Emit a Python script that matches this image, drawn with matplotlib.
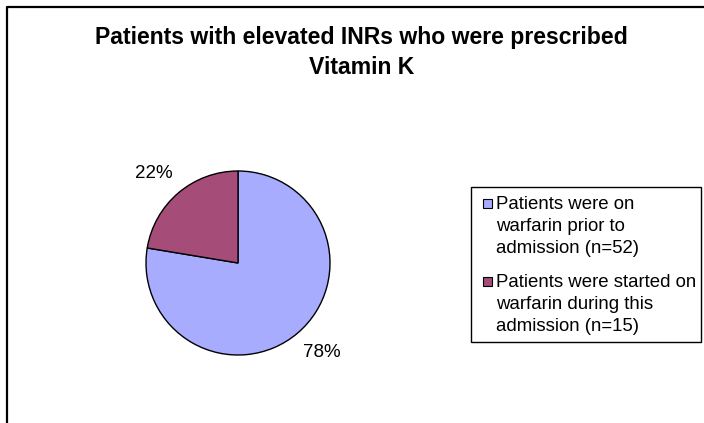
import matplotlib
matplotlib.use("Agg")
import math
import matplotlib.pyplot as plt
from matplotlib.patches import Rectangle
from matplotlib.lines import Line2D

title = "Patients with elevated INRs who were prescribed\nVitamin K"
labels = ["Patients were on\nwarfarin prior to\nadmission (n=52)",
          "Patients were started on\nwarfarin during this\nadmission (n=15)"]
counts = [52, 15]
colors = ["#A8ACFF", "#A64C78"]

plt.rcParams['font.family'] = ['Liberation Sans', 'DejaVu Sans']

W, H = 704, 423
fig = plt.figure(figsize=(W/100, H/100), dpi=100)

def fx(x): return x / W
def fy(y): return 1 - y / H

# outer frame (clipped at right and bottom)
fig.add_artist(Line2D([fx(7.5), fx(7.5), fx(704)], [fy(423), fy(7.5), fy(7.5)],
                      color="black", lw=1.6, transform=fig.transFigure))

fig.text(fx(361.5), fy(52.5), title, ha="center", va="center", fontsize=16.6,
         fontweight="bold", linespacing=1.4)

cx, cy, r = 238, 263, 92
ax = fig.add_axes([fx(cx - r), fy(cy + r), 2*r/W, 2*r/H])
wedges, texts, autotexts = ax.pie(counts, colors=colors, startangle=90, counterclock=False,
       autopct="%.0f%%", pctdistance=1.33,
       wedgeprops=dict(edgecolor="black", linewidth=1.0),
       textprops=dict(fontsize=13.5, color="black"))
# nudge percentage labels slightly counter-clockwise like the original
for t in autotexts:
    x, y = t.get_position()
    a = math.atan2(y, x) + math.radians(3)
    d = math.hypot(x, y)
    t.set_position((d * math.cos(a), d * math.sin(a)))
ax.set_xlim(-1, 1)
ax.set_ylim(-1, 1)
ax.set_aspect("equal")
ax.axis("off")

# legend box
fig.add_artist(Rectangle((fx(471), fy(342)), (701 - 471)/W, (342 - 187)/H,
                         transform=fig.transFigure, facecolor="white",
                         edgecolor="black", lw=1.0))
centers = [226.5, 304.5]
for lab, col, c in zip(labels, colors, centers):
    fig.add_artist(Rectangle((fx(483), fy(c - 23 + 4.5)), 9/W, 9/H,
                             transform=fig.transFigure, facecolor=col,
                             edgecolor="black", lw=0.8))
    fig.text(fx(496), fy(c), lab, ha="left", va="center", fontsize=13.4,
             linespacing=1.4)

fig.savefig("out.png", dpi=100)
